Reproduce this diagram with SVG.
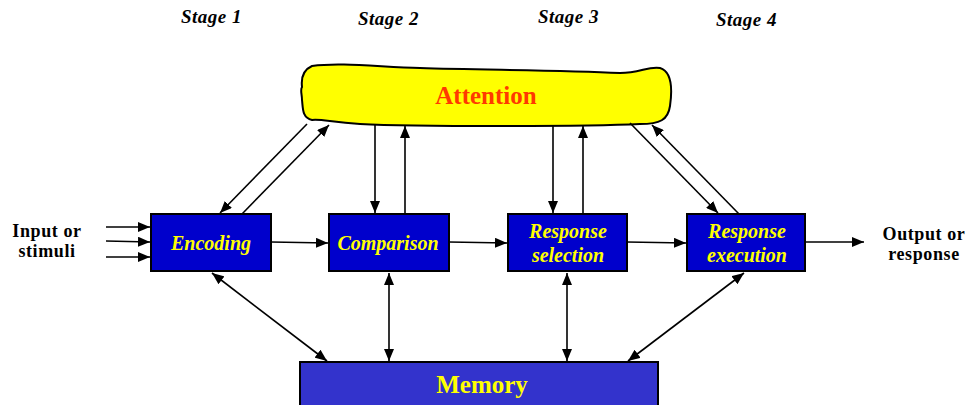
<svg xmlns="http://www.w3.org/2000/svg" width="973" height="405" viewBox="0 0 973 405">
  <style>
    .stage { font-family: "Liberation Serif", "Times New Roman", serif; font-weight: bold; font-style: italic; font-size: 19px; letter-spacing: 0.5px; fill: #000; }
    .side { font-family: "Liberation Serif", "Times New Roman", serif; font-weight: bold; font-size: 18px; letter-spacing: 0.6px; fill: #000; text-anchor: middle; }
    .box { fill: #0000CC; stroke: #000; stroke-width: 2; }
    .boxlabel { font-family: "Liberation Serif", "Times New Roman", serif; font-weight: bold; font-style: italic; font-size: 20px; fill: #FFFF00; text-anchor: middle; }
    .big { font-family: "Liberation Serif", "Times New Roman", serif; font-weight: bold; font-size: 25px; text-anchor: middle; }
    .conn line { stroke: #000; stroke-width: 1.6; fill: none; }
  </style>
  <defs>
    <marker id="head" viewBox="0 0 12 10" refX="12" refY="5" markerWidth="12" markerHeight="10" markerUnits="userSpaceOnUse" orient="auto-start-reverse">
      <path d="M0,0 L12,5 L0,10 Z" fill="#000"/>
    </marker>
  </defs>

  <rect width="973" height="405" fill="#fff"/>

  <!-- stage headings -->
  <g id="stages">
    <text class="stage" x="181" y="23">Stage 1</text>
    <text class="stage" x="358" y="25">Stage 2</text>
    <text class="stage" x="538" y="23">Stage 3</text>
    <text class="stage" x="716" y="26">Stage 4</text>
  </g>

  <!-- attention cloud -->
  <g id="attention">
    <path d="M312,66 C340,62 380,67 420,68 C480,70 560,70 620,73 C640,73 648,66 660,68 C673,72 672,92 670,106 C668,120 660,124 640,124 C600,126 560,126 500,126 C440,126 400,126 360,124 C330,122 322,119 312,120 C302,118 303,108 302,100 C302,94 300,90 302,87 C301,78 303,70 312,66 Z" fill="#FFFF00" stroke="#000" stroke-width="2"/>
    <text class="big" x="486" y="104" fill="#FF3A00">Attention</text>
  </g>

  <!-- side labels -->
  <g id="input">
    <text class="side" x="47" y="237">Input or</text>
    <text class="side" x="47" y="257">stimuli</text>
  </g>
  <g id="output">
    <text class="side" x="924" y="240">Output or</text>
    <text class="side" x="924" y="260">response</text>
  </g>

  <!-- processing stages -->
  <g id="encoding">
    <rect class="box" x="151" y="214" width="120" height="57"/>
    <text class="boxlabel" x="211" y="250">Encoding</text>
  </g>
  <g id="comparison">
    <rect class="box" x="329" y="214" width="120" height="57"/>
    <text class="boxlabel" x="388" y="250">Comparison</text>
  </g>
  <g id="selection">
    <rect class="box" x="508" y="214" width="119" height="57"/>
    <text class="boxlabel" x="568" y="238">Response</text>
    <text class="boxlabel" x="568" y="262">selection</text>
  </g>
  <g id="execution">
    <rect class="box" x="687" y="214" width="118" height="57"/>
    <text class="boxlabel" x="747" y="238">Response</text>
    <text class="boxlabel" x="747" y="262">execution</text>
  </g>

  <!-- memory store -->
  <g id="memory">
    <rect x="300" y="362" width="358" height="50" fill="#3333CC" stroke="#000" stroke-width="2"/>
    <text class="big" x="482" y="393" fill="#FFFF00">Memory</text>
  </g>

  <!-- connectors -->
  <g id="connectors" class="conn">
    <!-- inputs -->
    <line x1="106" y1="227" x2="150" y2="227" marker-end="url(#head)"/>
    <line x1="106" y1="241" x2="150" y2="242" marker-end="url(#head)"/>
    <line x1="106" y1="257" x2="150" y2="257" marker-end="url(#head)"/>
    <!-- main flow -->
    <line x1="271" y1="242" x2="328" y2="243" marker-end="url(#head)"/>
    <line x1="449" y1="242" x2="507" y2="243" marker-end="url(#head)"/>
    <line x1="627" y1="242" x2="686" y2="243" marker-end="url(#head)"/>
    <line x1="805" y1="242" x2="864" y2="242" marker-end="url(#head)"/>
    <!-- attention links -->
    <line x1="307" y1="124" x2="220" y2="213" marker-end="url(#head)"/>
    <line x1="242" y1="214" x2="329" y2="125" marker-end="url(#head)"/>
    <line x1="375" y1="124" x2="375" y2="213" marker-end="url(#head)"/>
    <line x1="405" y1="214" x2="405" y2="126" marker-end="url(#head)"/>
    <line x1="553" y1="126" x2="553" y2="213" marker-end="url(#head)"/>
    <line x1="583" y1="214" x2="583" y2="126" marker-end="url(#head)"/>
    <line x1="630" y1="123" x2="718" y2="213" marker-end="url(#head)"/>
    <line x1="739" y1="214" x2="652" y2="125" marker-end="url(#head)"/>
    <!-- memory links -->
    <line x1="212" y1="273" x2="327" y2="361" marker-start="url(#head)" marker-end="url(#head)"/>
    <line x1="389" y1="273" x2="389" y2="361" marker-start="url(#head)" marker-end="url(#head)"/>
    <line x1="567" y1="273" x2="567" y2="361" marker-start="url(#head)" marker-end="url(#head)"/>
    <line x1="744" y1="273" x2="628" y2="361" marker-start="url(#head)" marker-end="url(#head)"/>
  </g>
</svg>
